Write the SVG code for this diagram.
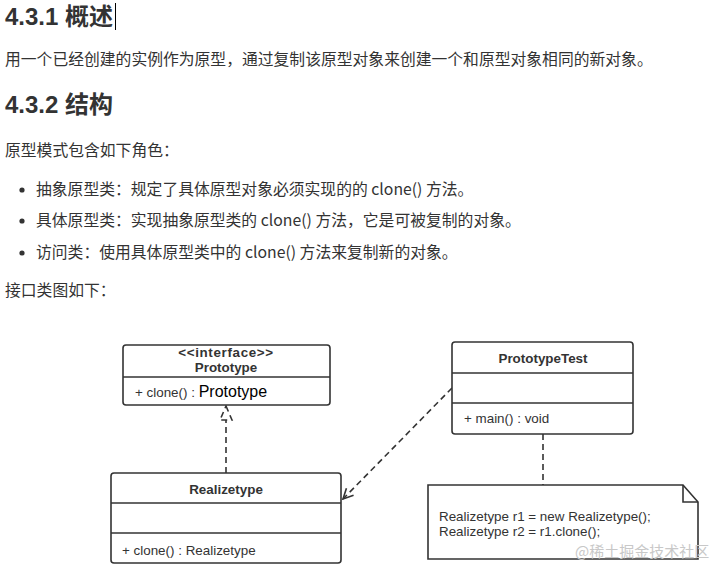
<svg xmlns="http://www.w3.org/2000/svg" width="712" height="568" viewBox="0 0 712 568">
<defs>
<style>
.h{font-family:"Liberation Sans","Noto Sans CJK SC",sans-serif;font-weight:bold;font-size:24px;fill:#333}
.p{font-family:"Noto Sans CJK SC","Noto Sans",sans-serif;font-size:15.8px;fill:#333}
.box{fill:#fff;stroke:#333;stroke-width:1.6}
.div{stroke:#333;stroke-width:1.6}
.t{font-family:"Liberation Sans","Noto Sans",sans-serif;font-weight:bold;font-size:13.4px;fill:#333;text-anchor:middle}
.m{font-family:"Liberation Sans","Noto Sans",sans-serif;font-size:13.4px;fill:#333}
.dash{fill:none;stroke:#333;stroke-width:1.6;stroke-dasharray:6 4}
</style>
<marker id="open" viewBox="0 0 12 12" refX="11" refY="6" markerWidth="12" markerHeight="12" markerUnits="userSpaceOnUse" orient="auto">
<path d="M1,1 L11,6 L1,11" fill="none" stroke="#333" stroke-width="1.6"/>
</marker>
</defs>
<rect width="712" height="568" fill="#fff"/>
<g id="text">
<text class="h" x="5" y="25">4.3.1 概述</text>
<line x1="115.5" y1="3" x2="115.5" y2="30" stroke="#000" stroke-width="1"/>
<text class="p" x="5" y="65">用一个已经创建的实例作为原型，通过复制该原型对象来创建一个和原型对象相同的新对象。</text>
<text class="h" x="5" y="113">4.3.2 结构</text>
<text class="p" x="5" y="156">原型模式包含如下角色：</text>
<circle cx="22" cy="190" r="2.6" fill="#333"/>
<text class="p" x="36" y="195">抽象原型类：规定了具体原型对象必须实现的的 clone() 方法。</text>
<circle cx="22" cy="221" r="2.6" fill="#333"/>
<text class="p" x="36" y="226">具体原型类：实现抽象原型类的 clone() 方法，它是可被复制的对象。</text>
<circle cx="22" cy="253" r="2.6" fill="#333"/>
<text class="p" x="36" y="258">访问类：使用具体原型类中的 clone() 方法来复制新的对象。</text>
<text class="p" x="5" y="296">接口类图如下：</text>
</g>
<g id="connectors">
<line class="dash" x1="226" y1="473" x2="226" y2="420"/>
<path class="dash" d="M226,406 L232,420 L220,420 Z" stroke-dasharray="5 3"/>
<line class="dash" x1="452" y1="388" x2="343" y2="499" marker-end="url(#open)"/>
<line class="dash" x1="543" y1="434" x2="543" y2="485"/>
</g>
<g id="Prototype">
<rect class="box" x="123" y="345" width="207" height="60" rx="3"/>
<line class="div" x1="123" y1="377" x2="330" y2="377"/>
<text class="t" x="226" y="357" letter-spacing="0.65">&lt;&lt;interface&gt;&gt;</text>
<text class="t" x="226" y="372">Prototype</text>
<text class="m" x="135" y="397">+ clone() : <tspan font-size="16" fill="#000">Prototype</tspan></text>
</g>
<g id="PrototypeTest">
<rect class="box" x="452" y="342" width="181" height="92" rx="3"/>
<line class="div" x1="452" y1="373" x2="633" y2="373"/>
<line class="div" x1="452" y1="403" x2="633" y2="403"/>
<text class="t" x="543" y="363">PrototypeTest</text>
<text class="m" x="464" y="423">+ main() : void</text>
</g>
<g id="Realizetype">
<rect class="box" x="111" y="473" width="230" height="90" rx="3"/>
<line class="div" x1="111" y1="503" x2="341" y2="503"/>
<line class="div" x1="111" y1="533" x2="341" y2="533"/>
<text class="t" x="226" y="494">Realizetype</text>
<text class="m" x="122" y="555">+ clone() : Realizetype</text>
</g>
<g id="Note">
<path class="box" d="M428,485 H683 L698,502 V559 H428 Z"/>
<path d="M683,485 V502 H698" fill="none" stroke="#333" stroke-width="1.6"/>
<text class="m" x="439" y="521">Realizetype r1 = new Realizetype();</text>
<text class="m" x="439" y="536">Realizetype r2 = r1.clone();</text>
</g>
<text x="575" y="557" font-family="Noto Sans CJK SC,sans-serif" font-size="15" fill="#c8c8c8">@稀土掘金技术社区</text>
</svg>
